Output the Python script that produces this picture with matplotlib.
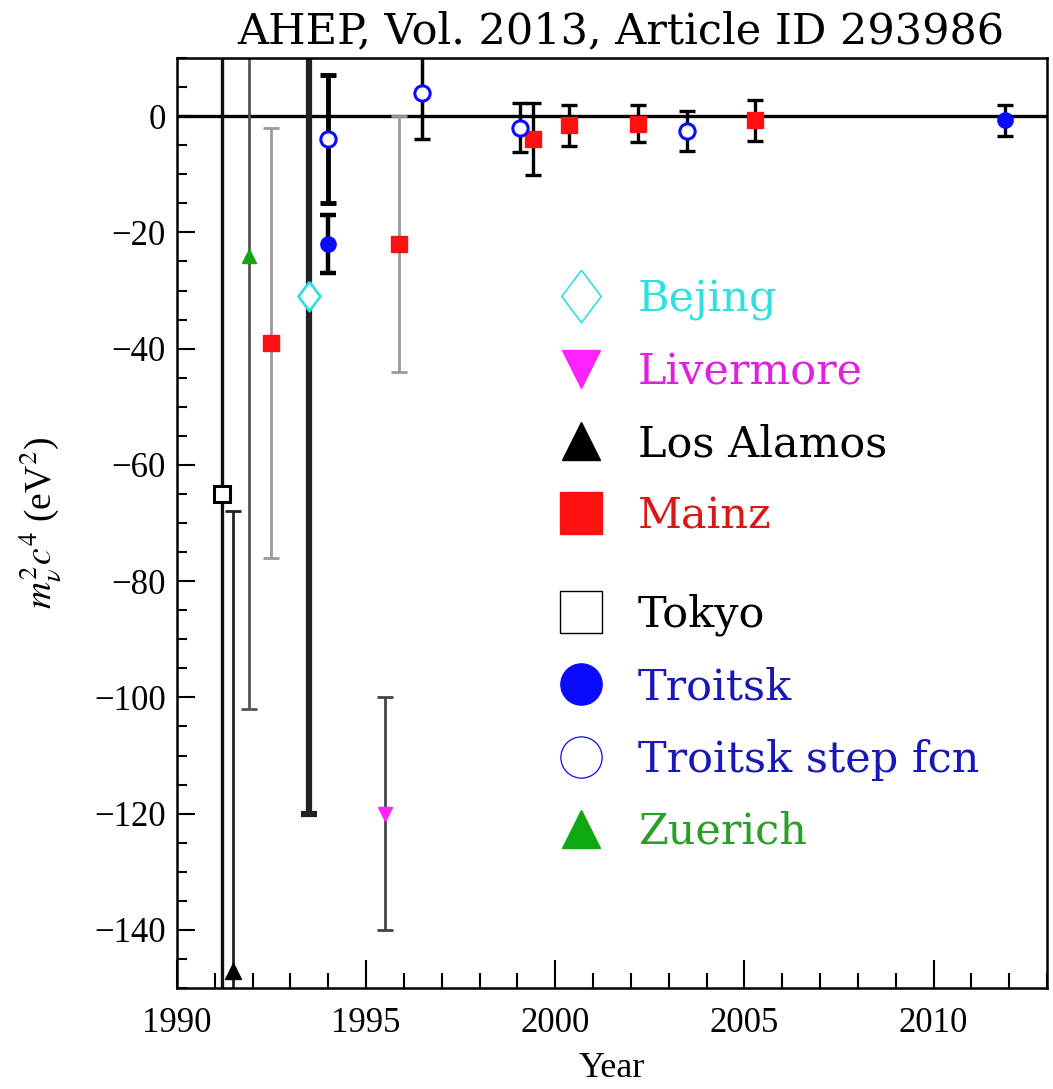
import matplotlib
matplotlib.use("Agg")
import matplotlib.pyplot as plt
from matplotlib.lines import Line2D
from matplotlib.ticker import MultipleLocator

plt.rcParams['font.family'] = ['Liberation Serif', 'DejaVu Serif']
plt.rcParams['mathtext.fontset'] = 'stix'

# ---- data (year, m^2 value, symmetric error) ----
tokyo_year = [1991.18]; tokyo_val = [-65]; tokyo_err = [107]
losalamos_year = [1991.48]; losalamos_val = [-147]; losalamos_err = [79]
zuerich_year = [1991.9]; zuerich_val = [-24]; zuerich_err = [78]
mainz_year = [1992.48, 1995.87, 1999.41, 2000.36, 2002.19, 2005.29]
mainz_val = [-39, -22, -4.0, -1.6, -1.3, -0.7]
mainz_err = [37, 22, 6.2, 3.6, 3.2, 3.5]
bejing_year = [1993.5]; bejing_val = [-31]; bejing_err = [89]
troitsk_year = [1993.98, 2011.9]; troitsk_val = [-22, -0.7]; troitsk_err = [5, 2.7]
tstep_year = [1993.98, 1996.48, 1999.07, 2003.49]
tstep_val = [-4, 4, -2.0, -2.6]
tstep_err = [11, 8, 4.2, 3.4]
livermore_year = [1995.5]; livermore_val = [-120]; livermore_err = [20]

xticks = [1990, 1995, 2000, 2005, 2010]
yticks = [0, -20, -40, -60, -80, -100, -120, -140]
legend_labels = ['Bejing', 'Livermore', 'Los Alamos', 'Mainz',
                 'Tokyo', 'Troitsk', 'Troitsk step fcn', 'Zuerich']

# ---- styles ----
C_BEJ = '#30e0e0'; C_LIV = '#ff22ff'; C_MAINZ = '#ff1010'
C_TRO = '#0a0aff'; C_ZUE = '#10a810'
mainz_ecol = ['#9a9a9a', '#9a9a9a', 'black', 'black', 'black', 'black']
mainz_elw = [2.0, 2.0, 2.4, 2.4, 2.4, 2.4]
tstep_elw = [3.5, 2.5, 2.4, 2.4]
troitsk_elw = [3.2, 2.4]

fig = plt.figure(figsize=(10.53, 10.89), dpi=100)
ax = fig.add_axes([177/1053, 1 - 988/1089, (1047-177)/1053, (988-58)/1089])

ax.axhline(0, color='black', lw=2.4, zorder=1)

thin_diamond = [(0, 1), (0.75, 0), (0, -1), (-0.75, 0), (0, 1)]


def series(xs, ys, es, ecols, elws, cap, **mk):
    for x, y, e, ec, lw in zip(xs, ys, es, ecols, elws):
        ax.errorbar([x], [y], yerr=[e], fmt='none', ecolor=ec, elinewidth=lw,
                    capsize=cap, capthick=lw, zorder=2)
    ax.plot(xs, ys, linestyle='none', zorder=3, **mk)


series(tokyo_year, tokyo_val, tokyo_err, ['#111111'], [2.4], 6,
       marker='s', ms=12, mfc='white', mec='black', mew=2.2)
series(losalamos_year, losalamos_val, losalamos_err, ['#222222'], [2.0], 6,
       marker='^', ms=11, color='black')
series(zuerich_year, zuerich_val, zuerich_err, ['#555555'], [2.0], 6,
       marker='^', ms=10, color=C_ZUE)
series(mainz_year, mainz_val, mainz_err, mainz_ecol, mainz_elw, 6,
       marker='s', ms=11, color=C_MAINZ)
series(bejing_year, bejing_val, bejing_err, ['#222222'], [4.5], 6,
       marker=thin_diamond, ms=21, mfc='white', mec=C_BEJ, mew=2)
series(troitsk_year, troitsk_val, troitsk_err, ['black', 'black'], troitsk_elw, 6,
       marker='o', ms=11, color=C_TRO)
series(tstep_year, tstep_val, tstep_err, ['black'] * 4, tstep_elw, 6,
       marker='o', ms=11, mfc='white', mec=C_TRO, mew=2.2)
series(livermore_year, livermore_val, livermore_err, ['#444444'], [2.0], 6,
       marker='v', ms=10, color=C_LIV)

ax.set_xlim(1990, 2013)
ax.set_ylim(-150, 10)
ax.set_xticks(xticks)
ax.set_yticks(yticks)
ax.set_yticklabels(['0' if v == 0 else '\u2212%d' % -v for v in yticks])
ax.xaxis.set_minor_locator(MultipleLocator(1))
ax.yaxis.set_minor_locator(MultipleLocator(5))
ax.tick_params(axis='both', which='both', direction='in', top=False, right=False,
               labelsize=25, width=1.5, color='black')
ax.tick_params(axis='x', which='major', length=20, pad=14)
ax.tick_params(axis='x', which='minor', length=11)
ax.tick_params(axis='y', which='major', length=13, pad=8)
ax.tick_params(axis='y', which='minor', length=7)
for s in ax.spines.values():
    s.set_linewidth(1.8)

ax.set_xlabel('Year', fontsize=26, labelpad=8)
ax.set_ylabel(r'$m_\nu^2c^4$ (eV$^2$)', fontsize=27, labelpad=22)

fig.text(0.59, 0.971, 'AHEP, Vol. 2013, Article ID 293986', ha='center', va='center',
         fontsize=31, family='DejaVu Serif')

# ---- legend (two blocks) ----
h1 = [Line2D([], [], ls='none', marker=thin_diamond, ms=14, mfc='white', mec=C_BEJ, mew=1.2),
      Line2D([], [], ls='none', marker='v', ms=10, color=C_LIV),
      Line2D([], [], ls='none', marker='^', ms=10, color='black'),
      Line2D([], [], ls='none', marker='s', ms=11, color=C_MAINZ)]
h2 = [Line2D([], [], ls='none', marker='s', ms=11, mfc='white', mec='black', mew=1.0),
      Line2D([], [], ls='none', marker='o', ms=11, color=C_TRO),
      Line2D([], [], ls='none', marker='o', ms=11, mfc='white', mec=C_TRO, mew=0.9),
      Line2D([], [], ls='none', marker='^', ms=10, color=C_ZUE)]
cols1 = [C_BEJ, '#e020e0', 'black', '#d81818']
cols2 = ['black', '#1818b8', '#1818b8', '#28a028']

lkw = dict(loc='upper left', frameon=False, markerscale=2.7, labelspacing=0.70,
           handletextpad=0.72, handlelength=1.2, borderpad=0,
           prop={'family': 'DejaVu Serif', 'size': 31})
leg1 = ax.legend(h1, legend_labels[:4], bbox_to_anchor=(0.41, 0.786),
                 labelcolor=cols1, **lkw)
ax.add_artist(leg1)
leg2 = ax.legend(h2, legend_labels[4:], bbox_to_anchor=(0.41, 0.447),
                 labelcolor=cols2, **lkw)

fig.savefig('out.png', dpi=100)
